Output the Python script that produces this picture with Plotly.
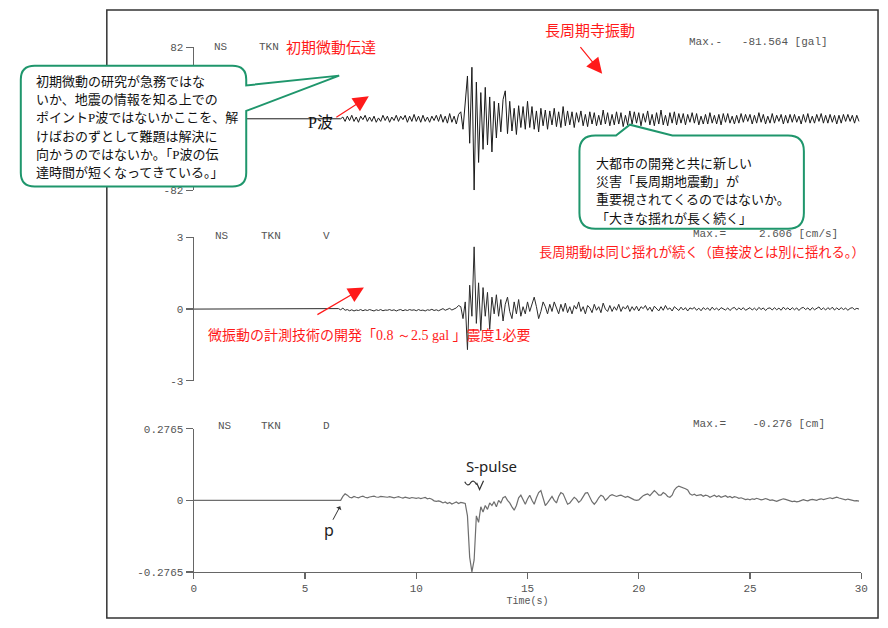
import plotly.graph_objects as go

W, H = 888, 628

# ---------------- data ----------------
DT = 0.1  # sample interval [s]; samples start at t = 0.0
time_ticks = [0, 5, 10, 15, 20, 25, 30]

# NS component, station TKN : acceleration [gal]
acc_gal = [
    0, 0, 0, 0, 0, 0, 0, 0, 0, 0,
    0, 0, 0, 0, 0, 0, 0, 0, 0, 0,
    0, 0, 0, 0, 0, 0, 0, 0, 0, 0,
    0, 0, 0, 0, 0, 0, 0, 0, 0, 0,
    0, 0, 0, 0, 0, 0, 0, 0, 0, 0,
    0, 0, 0, 0, 0, 0, 0, 0, 0, 0,
    0, 0, 0, 0, 0, 0, 0, 2, -3, 3,
    -2, 4, -3, 2, -4, 3, -1, 4, -3, 2,
    -3, 3, -4, 1, -3, 4, -2, 3, -4, 2,
    -2, 4, -3, 3, -1, 4, -4, 3, -3, 5,
    -3, 3, -4, 4, -3, 2, -4, 3, -2, 4,
    -3, 5, -4, 3, -5, 6, -4, 3, -6, 5,
    8, -12, 22, 49, -28, 59, -81.6, 42, -50, 30,
    -35, 36, -30, 25, -38, 20, -22, 18, -15, 22,
    32, -17, 20, -14, 12, -18, 15, -10, 14, -12,
    20, -10, 14, -12, 9, -15, 12, -8, 10, -12,
    9, -7, 12, -9, 8, -10, 14, -8, 9, -7,
    8, -10, 7, -4, 9, -8, 5, -9, 8, -6,
    7, -8, 4, -7, 10, -6, 7, -8, 5, -7,
    8, -6, 7, -9, 4, -7, 9, -6, 8, -5,
    7, -8, 6, -4, 9, -7, 5, -8, 7, -6,
    10, -7, 4, -8, 7, -5, 8, -7, 6, -5,
    6, -7, 5, -4, 7, -5, 6, -7, 3, -6,
    5, -6, 7, -5, 4, -6, 5, -7, 6, -4,
    6, -5, 3, -6, 4, -5, 6, -4, 5, -3,
    5, -6, 4, -5, 7, -4, 5, -6, 3, -5,
    6, -5, 4, -3, 5, -6, 4, -5, 5, -4,
    5, -4, 3, -6, 5, -4, 6, -5, 3, -5,
    5, -3, 6, -5, 4, -5, 5, -4, 4, -6,
    4, -5, 5, -3, 5, -3, 4, -5, 4, -3,
]

# velocity [cm/s]
vel_cms = [
    0, 0, 0, 0, 0, 0, 0, 0, 0, 0,
    0, 0, 0, 0, 0, 0, 0, 0, 0, 0,
    0, 0, 0, 0, 0, 0, 0, 0, 0, 0,
    0, 0, 0, 0, 0, 0, 0, 0, 0, 0,
    0, 0, 0, 0, 0, 0, 0, 0, 0, 0,
    0, 0, 0, 0, 0, 0, 0, 0, 0, 0,
    0, 0, 0, 0, 0, 0.02, -0.03, 0.04, -0.05, -0.02,
    -0.07, -0.03, -0.08, -0.04, -0.06, -0.02, -0.07, -0.03, -0.06, -0.02,
    -0.05, -0.08, -0.03, -0.06, -0.02, -0.07, -0.04, -0.05, -0.02, -0.06,
    -0.03, -0.08, -0.04, -0.02, -0.07, -0.03, -0.06, -0.02, -0.05, -0.03,
    -0.07, -0.02, -0.06, -0.04, -0.08, -0.03, -0.05, -0.01, -0.06, -0.03,
    -0.07, -0.02, 0.02, -0.05, -0.02, 0.03, -0.04, 0.0, 0.05, 0.15,
    0.1, -0.4, 0.3, -1.7, 1.0, -0.3, 2.606, -0.6, 1.1, -0.9,
    0.9, -0.3, 0.7, -0.85, 0.5, -0.2, 0.6, -0.3, 0.4, -0.5,
    0.2, 0.5, -0.1, -0.4, 0.3, -0.2, 0.4, -0.3, 0.1, -0.2,
    0.3, -0.1, 0.2, 0.5, 0.1, -0.4, -0.1, 0.3, 0.1, -0.2,
    0.2, -0.1, 0.3, 0.0, -0.2, 0.2, -0.1, 0.25, -0.15, 0.1,
    -0.2, 0.15, 0.0, 0.3, -0.1, 0.1, -0.2, 0.15, 0.05, -0.15,
    0.2, -0.05, 0.1, -0.15, 0.25, 0.0, -0.1, 0.15, -0.1, 0.1,
    -0.05, 0.2, -0.1, 0.1, 0.0, 0.15, -0.1, 0.1, -0.05, 0.12,
    -0.08, 0.1, 0.02, 0.15, -0.05, 0.08, -0.1, 0.12, 0.0, -0.08,
    0.1, -0.05, 0.15, -0.02, 0.05, -0.08, 0.1, 0.0, -0.06, 0.08,
    -0.04, 0.06, -0.08, 0.05, 0.0, 0.07, -0.05, 0.04, -0.07, 0.06,
    -0.02, 0.05, -0.06, 0.08, -0.03, 0.04, -0.05, 0.06, 0.0, -0.04,
    0.05, -0.06, 0.03, 0.07, -0.04, 0.05, -0.03, 0.06, -0.05, 0.02,
    0.06, -0.04, 0.04, -0.05, 0.07, -0.02, 0.05, -0.06, 0.03, 0.05,
    -0.04, 0.06, -0.03, 0.04, -0.05, 0.08, -0.02, 0.05, -0.04, 0.06,
    -0.03, 0.05, -0.06, 0.04, 0.07, -0.02, 0.05, -0.05, 0.06, -0.03,
    0.04, 0.09, -0.03, 0.05, -0.04, 0.06, -0.02, 0.08, -0.04, 0.05,
    -0.03, 0.06, -0.02, 0.04, -0.05, 0.03, 0.06, -0.02, 0.03, 0.0,
]

# displacement [cm]
disp_cm = [
    0, 0, 0, 0, 0, 0, 0, 0, 0, 0,
    0, 0, 0, 0, 0, 0, 0, 0, 0, 0,
    0, 0, 0, 0, 0, 0, 0, 0, 0, 0,
    0, 0, 0, 0, 0, 0, 0, 0, 0, 0,
    0, 0, 0, 0, 0, 0, 0, 0, 0, 0,
    0, 0, 0, 0, 0, 0, 0, 0, 0, 0,
    0, 0, 0, 0, 0, 0, 0, 0.015, 0.025, 0.02,
    0.012, 0.01, 0.015, 0.012, 0.01, 0.014, 0.016, 0.012, 0.01, 0.013,
    0.015, 0.016, 0.013, 0.012, 0.015, 0.014, 0.011, 0.012, 0.014, 0.012,
    0.01, 0.012, 0.014, 0.011, 0.009, 0.012, 0.01, 0.008, 0.011, 0.009,
    0.008, 0.01, 0.007, 0.009, 0.011, 0.006, 0.008, 0.004, -0.002, -0.004,
    -0.002, -0.005, -0.01, -0.006, -0.012, -0.008, -0.014, -0.01, -0.006, -0.012,
    -0.008, -0.01, -0.012, -0.06, -0.22, -0.2765, -0.23, -0.06, -0.085, -0.025,
    -0.045, -0.02, -0.035, -0.01, -0.02, -0.005, -0.025, 0.0, -0.01, 0.01,
    0.015, 0.0, -0.01, -0.025, -0.038, -0.02, 0.01, 0.02, 0.0, -0.015,
    0.005, 0.02, 0.0, -0.015, 0.01, 0.03, 0.038, 0.01, -0.02, -0.01,
    0.005, 0.015, 0.0, -0.01, 0.015, 0.03, 0.025, 0.005, -0.015, -0.01,
    0.0, 0.012, 0.005, -0.008, 0.0, 0.015, 0.028, 0.03, 0.01, -0.005,
    -0.015, -0.005, 0.01, 0.02, 0.015, 0.0, 0.008, 0.018, 0.022, 0.02,
    0.015, 0.018, 0.02, 0.016, 0.012, 0.015, 0.01, 0.006, 0.002, 0.0,
    0.002, 0.01, 0.018, 0.022, 0.025, 0.018, 0.028, 0.038, 0.03, 0.02,
    0.02, 0.03, 0.025, 0.015, 0.012, 0.02, 0.04, 0.05, 0.055, 0.052,
    0.05, 0.045, 0.04, 0.025, 0.02, 0.024, 0.018, 0.02, 0.022, 0.016,
    0.02, 0.018, 0.012, 0.016, 0.02, 0.014, 0.018, 0.012, 0.015, 0.018,
    0.012, 0.015, 0.01, 0.014, 0.012, 0.008, 0.01, 0.006, 0.003, 0.005,
    0.002, 0.006, 0.004, 0.008, 0.005, 0.002, 0.004, 0.007, 0.004, 0.0,
    0.002, -0.002, -0.004, 0.0, 0.003, 0.006, 0.004, 0.001, -0.003, -0.005,
    -0.003, -0.006, -0.004, 0.0, 0.003, 0.0, -0.002, 0.002, 0.004, 0.002,
    0.0, 0.004, 0.006, 0.003, 0.005, 0.008, 0.01, 0.007, 0.01, 0.012,
    0.009, 0.006, 0.004, 0.002, 0.005, 0.003, 0.0, -0.002, -0.001, -0.003,
]

acc_lim = 82
vel_lim = 3
disp_lim = 0.2765

acc_max_text = "Max.-\u00a0\u00a0\u00a0-81.564\u00a0[gal]"
vel_max_text = "Max.=\u00a0\u00a0\u00a0\u00a0\u00a02.606\u00a0[cm/s]"
disp_max_text = "Max.=\u00a0\u00a0\u00a0\u00a0-0.276\u00a0[cm]"

times = [round(i * DT, 1) for i in range(len(acc_gal))]

# ---------------- helpers for pixel placement ----------------
def px(x):
    return x / W

def py(y):
    return 1 - y / H

def P(x, y):
    return f"{px(x):.5f},{py(y):.5f}"

MONO = "Liberation Mono, DejaVu Sans Mono, monospace"
JP = "Noto Sans CJK JP, sans-serif"
SERIF = "Liberation Serif, Noto Sans CJK JP"
AX = "#666666"
TXT = "#555555"
RED = "#ff1a1a"
GREEN = "#1f966c"

fig = go.Figure()
fig.add_trace(go.Scatter(x=times, y=acc_gal, xaxis="x", yaxis="y", mode="lines",
                         line=dict(color="#1a1a1a", width=1), hoverinfo="skip"))
fig.add_trace(go.Scatter(x=times, y=vel_cms, xaxis="x2", yaxis="y2", mode="lines",
                         line=dict(color="#2b2b2b", width=1), hoverinfo="skip"))
fig.add_trace(go.Scatter(x=times, y=disp_cm, xaxis="x3", yaxis="y3", mode="lines",
                         line=dict(color="#6e6e6e", width=1.2), hoverinfo="skip"))

xdom = [px(193), px(868)]
hidden_x = dict(domain=xdom, range=[0, 30], visible=False)

def yax(dom_top, dom_bot, lim, vals, texts, anchor):
    return dict(domain=[py(dom_bot), py(dom_top)], range=[-lim, lim], anchor=anchor,
                showline=True, linecolor=AX, linewidth=1.2, ticks="outside",
                ticklen=7, tickcolor=AX, tickwidth=1.2, tickvals=vals, ticktext=texts,
                tickfont=dict(family=MONO, size=11, color=TXT),
                showgrid=False, zeroline=False, fixedrange=True)

fig.update_layout(
    width=W, height=H,
    margin=dict(l=0, r=0, t=0, b=0),
    paper_bgcolor="white", plot_bgcolor="rgba(0,0,0,0)",
    showlegend=False,
    font=dict(family=JP),
    xaxis=dict(hidden_x, anchor="y"),
    xaxis2=dict(hidden_x, anchor="y2"),
    xaxis3=dict(domain=xdom, range=[0, 30], anchor="y3", showline=True, linecolor=AX,
                linewidth=1.2, ticks="outside", ticklen=6, tickcolor=AX, tickwidth=1.2,
                tickvals=time_ticks, tickfont=dict(family=MONO, size=11, color=TXT),
                showgrid=False, zeroline=False,
                title=dict(text="Time(s)", font=dict(family=MONO, size=10, color=TXT), standoff=2)),
    yaxis=yax(43, 189, acc_lim, [-acc_lim, acc_lim], ["-82", "82"], "x"),
    yaxis2=yax(237, 383, vel_lim, [-vel_lim, 0, vel_lim], ["-3", "0", "3"], "x2"),
    yaxis3=yax(432, 578, disp_lim, [-disp_lim, 0, disp_lim], ["-0.2765", "0", "0.2765"], "x3"),
)

# ---------------- shapes: frame, callouts, squiggle ----------------
shapes = [dict(type="rect", xref="paper", yref="paper", x0=px(105), x1=px(885),
               y0=py(625), y1=py(5), line=dict(color="#333333", width=1.5), layer="below")]

x0, y0, x1, y1, r = 18, 62, 246, 185, 14
left_callout = (f"M {P(x0 + r, y0)} L {P(x1 - r, y0)} Q {P(x1, y0)} {P(x1, y0 + r)} "
                f"L {P(x1, 82)} L {P(340, 72)} L {P(x1, 108)} L {P(x1, y1 - r)} "
                f"Q {P(x1, y1)} {P(x1 - r, y1)} L {P(x0 + r, y1)} Q {P(x0, y1)} {P(x0, y1 - r)} "
                f"L {P(x0, y0 + r)} Q {P(x0, y0)} {P(x0 + r, y0)} Z")
x0, y0, x1, y1, r = 583, 133, 810, 228, 16
right_callout = (f"M {P(x0 + r, y0)} L {P(620, y0)} L {P(634, 122)} L {P(677, y0)} "
                 f"L {P(x1 - r, y0)} Q {P(x1, y0)} {P(x1, y0 + r)} L {P(x1, y1 - r)} "
                 f"Q {P(x1, y1)} {P(x1 - r, y1)} L {P(x0 + r, y1)} Q {P(x0, y1)} {P(x0, y1 - r)} "
                 f"L {P(x0, y0 + r)} Q {P(x0, y0)} {P(x0 + r, y0)} Z")
for pth in (left_callout, right_callout):
    shapes.append(dict(type="path", xref="paper", yref="paper", path=pth,
                       fillcolor="white", line=dict(color=GREEN, width=2), layer="above"))

squiggle = f"M {P(467, 486)} Q {P(470, 492)} {P(473, 487)} Q {P(476, 483)} {P(479, 489)}"
arrow_v = f"M {P(479, 487)} L {P(482, 494)} L {P(486, 485)}"
for pth in (squiggle, arrow_v):
    shapes.append(dict(type="path", xref="paper", yref="paper", path=pth,
                       line=dict(color="#333333", width=1.2), layer="above"))
fig.update_layout(shapes=shapes)

# ---------------- annotations ----------------
anns = []

def label(text, x, y, size, color, family, xanchor="left", align="left"):
    anns.append(dict(text=text, x=px(x), y=py(y), xref="paper", yref="paper",
                     xanchor=xanchor, yanchor="middle", showarrow=False, align=align,
                     borderpad=0, font=dict(size=size, color=color, family=family)))

def arrow(tail, tip, color, head=2, size=2.6, width=1.2):
    anns.append(dict(text="", x=px(tip[0]), y=py(tip[1]), xref="paper", yref="paper",
                     ax=tail[0] - tip[0], ay=tail[1] - tip[1], showarrow=True,
                     arrowhead=head, arrowsize=size, arrowwidth=width, arrowcolor=color))

# panel headers
for (lx, ly, t) in [(212, 43, "NS"), (258, 43, "TKN"),
                    (213, 236, "NS"), (260, 236, "TKN"), (323, 236, "V"),
                    (216, 429, "NS"), (260, 429, "TKN"), (323, 429, "D")]:
    label(t, lx, ly, 11, TXT, MONO)
label(acc_max_text, 693, 38, 11, TXT, MONO)
label(vel_max_text, 697, 233, 11, TXT, MONO)
label(disp_max_text, 697, 427, 11, TXT, MONO)

# red notes
label("初期微動伝達", 285, 42, 15, RED, JP)
label("長周期寺振動", 547, 25, 15, RED, JP)
label("長周期動は同じ揺れが続く（直接波とは別に揺れる。）", 541, 251, 13.3, RED, JP)
label('微振動の計測技術の開発「<span style="font-family:Liberation Serif">0.8 ～2.5 gal </span>」震度1必要',
      206, 335, 14, RED, JP)
arrow((336, 115), (370, 93), RED)
arrow((583, 42), (606, 70), RED)
arrow((317, 316), (365, 288), RED)

# black marks
label("P波", 307, 120, 16, "#111111", SERIF)
label("S-pulse", 467, 470, 15, "#222222", "Noto Sans, Open Sans, sans-serif")
label("p", 324, 535, 16, "#222222", "Noto Sans, Open Sans, sans-serif")
arrow((333, 526), (341, 511), "#333333", head=1, size=1, width=1)

# callout texts, one annotation per line
sp = '<span style="font-family:Liberation Serif">P</span>'
left_lines = ["初期微動の研究が急務ではな",
              "いか、地震の情報を知る上での",
              f"ポイント{sp}波ではないかここを、解",
              "けばおのずとして難題は解決に",
              f"向かうのではないか。「{sp}波の伝",
              "達時間が短くなってきている。」"]
for i, line in enumerate(left_lines):
    label(line, 32, 76.7 + 18.7 * i, 13, "#111111", JP)

right_lines = ["大都市の開発と共に新しい",
               "災害「長周期地震動」が",
               "重要視されてくるのではないか。",
               "「大きな揺れが長く続く」"]
for i, line in enumerate(right_lines):
    label(line, 599, 160.5 + 18.6 * i, 13, "#111111", JP)

fig.update_layout(annotations=anns)
fig.write_html("out.html",
               config={"displayModeBar": False, "staticPlot": True},
               post_script="document.body.style.margin='0';document.body.style.overflow='hidden';")
